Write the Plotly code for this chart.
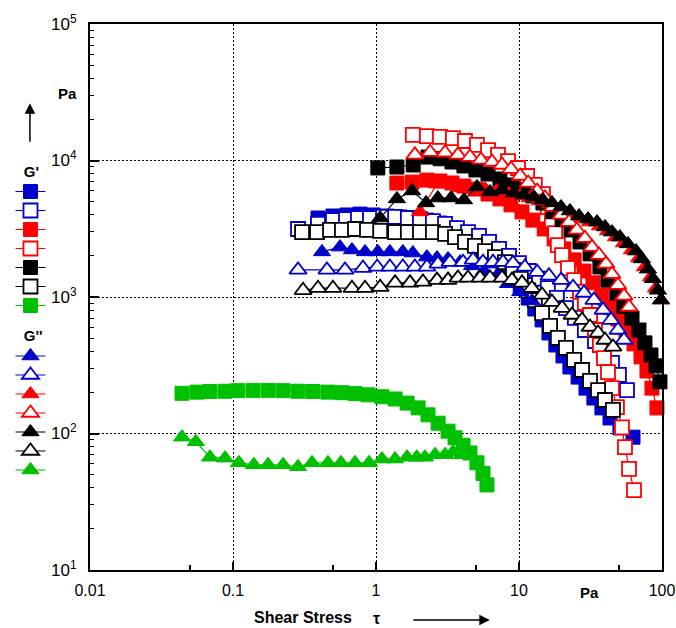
import plotly.graph_objects as go

# ---------------- data (shear stress tau [Pa], modulus [Pa]) ----------------
# G' (squares)
x1 = [0.393, 0.500, 0.627, 0.773, 0.953, 1.19, 1.47, 1.81, 2.27, 2.80, 3.40, 4.06, 4.77, 5.60, 6.58, 7.73, 8.93, 10.2, 11.6, 12.9, 14.5, 16.2, 18.1, 20.3, 22.7, 25.9, 29.4, 33.4, 38.0, 43.3, 50.8, 62.7]
y1 = [3790, 3920, 3990, 4050, 3990, 3920, 3860, 3790, 3660, 3480, 3200, 2840, 2490, 2140, 1840, 1580, 1360, 1160, 984, 817, 679, 545, 445, 370, 307, 259, 215, 182, 154, 130, 110, 94]

x2 = [0.285, 0.393, 0.500, 0.617, 0.748, 0.908, 1.12, 1.36, 1.67, 2.03, 2.50, 3.04, 3.68, 4.40, 5.25, 6.17, 7.25, 8.51, 10.0, 11.7, 13.8, 15.9, 18.4, 21.3, 24.6, 28.9, 34.0, 39.3, 44.7, 50.0, 56.9]
y2 = [3150, 3430, 3660, 3720, 3790, 3790, 3860, 3860, 3790, 3720, 3600, 3430, 3200, 2990, 2800, 2530, 2250, 2000, 1770, 1550, 1360, 1160, 984, 830, 702, 573, 476, 396, 329, 269, 208]

x3 = [1.40, 1.79, 2.27, 2.80, 3.40, 4.12, 5.00, 6.07, 7.36, 8.79, 10.5, 12.5, 15.0, 17.6, 20.6, 24.3, 28.5, 32.9, 38.0, 43.3, 49.2, 56.0, 63.7, 71.3, 78.5, 85.1, 92.2]
y3 = [6840, 6950, 7190, 7080, 6840, 6500, 6180, 5680, 5230, 4730, 4200, 3660, 3150, 2660, 2250, 1870, 1550, 1270, 1035, 845, 690, 564, 453, 364, 287, 215, 154]

x4 = [1.81, 2.27, 2.80, 3.45, 4.19, 5.08, 6.07, 7.13, 8.38, 9.84, 11.4, 12.9, 14.7, 15.9, 17.0, 17.9, 18.7, 20.0, 22.0, 24.3, 26.7, 28.9, 31.4, 34.0, 36.8, 39.3, 41.9, 44.7, 48.4, 52.5, 55.1, 58.8, 63.7]
y4 = [15400, 15100, 14900, 14600, 13900, 13000, 11900, 11000, 9910, 8810, 7700, 6620, 5680, 4560, 3660, 2940, 2400, 2030, 1630, 1330, 1090, 904, 738, 573, 445, 357, 282, 215, 156, 111, 79.6, 55.0, 38.5]

x5 = [1.03, 1.40, 1.82, 2.31, 2.81, 3.40, 4.12, 5.00, 6.07, 7.36, 8.93, 10.7, 12.5, 14.7, 17.3, 20.0, 23.1, 26.7, 31.4, 36.8, 41.9, 48.4, 54.2, 61.7, 69.0, 76.0, 83.7, 90.7, 96.8]
y5 = [8820, 8960, 9270, 10600, 10300, 9750, 9120, 8520, 7960, 7320, 6620, 6080, 5500, 4880, 4210, 3680, 3100, 2530, 2070, 1660, 1330, 1070, 856, 700, 573, 461, 376, 313, 239]

x6 = [0.304, 0.387, 0.477, 0.578, 0.713, 0.865, 1.07, 1.36, 1.67, 2.03, 2.50, 3.04, 3.57, 4.19, 4.92, 5.78, 6.79, 7.98, 9.08, 10.3, 11.6, 12.9, 14.5, 16.5, 18.7, 21.3, 24.3, 27.6, 31.4, 35.7, 39.9, 45.4]
y6 = [2990, 2990, 3100, 3100, 3150, 3100, 3050, 2990, 2990, 2990, 2990, 2900, 2750, 2530, 2370, 2170, 1960, 1800, 1580, 1360, 1120, 950, 763, 614, 501, 424, 346, 292, 243, 208, 176, 149]

x7 = [0.044, 0.056, 0.069, 0.088, 0.108, 0.138, 0.176, 0.224, 0.285, 0.362, 0.461, 0.578, 0.713, 0.879, 1.10, 1.36, 1.65, 1.97, 2.31, 2.72, 3.19, 3.57, 4.06, 4.54, 5.08, 5.60, 5.97]
y7 = [197, 201, 203, 204, 206, 207, 207, 206, 204, 203, 201, 199, 196, 192, 186, 179, 167, 154, 137, 119, 104, 93, 82, 72, 61, 51, 42]

# G'' (triangles)
x8 = [0.419, 0.560, 0.679, 0.838, 1.03, 1.25, 1.54, 1.81, 2.27, 2.67, 3.19, 3.87, 4.69, 5.69, 6.90, 8.38, 10.2, 12.3]
y8 = [2140, 2320, 2210, 2140, 2140, 2140, 2140, 2100, 1960, 1930, 1900, 1800, 1690, 1550, 1400, 1250, 1090, 935]

x9 = [0.285, 0.454, 0.607, 0.811, 1.02, 1.25, 1.54, 1.87, 2.27, 2.71, 3.29, 4.06, 4.77, 5.60, 6.58, 7.73, 9.08, 11.0, 13.4, 16.2, 19.7, 23.9, 28.5, 33.4, 38.7, 44.0, 49.2, 54.2]
y9 = [1580, 1580, 1580, 1630, 1660, 1660, 1660, 1660, 1660, 1750, 1800, 1800, 1870, 1800, 1800, 1800, 1770, 1660, 1520, 1430, 1330, 1180, 1070, 950, 803, 678, 573, 484]

x10 = [2.03, 2.67, 3.14, 3.87, 4.69, 5.78, 7.02, 8.51, 10.2, 11.9, 14.0, 16.5, 19.4, 22.7, 26.7, 31.4, 36.8, 41.9, 47.7, 54.2, 61.7, 69.0, 76.0, 83.7, 90.7, 98.4]
y10 = [4200, 6730, 6730, 6290, 6080, 6180, 5980, 5680, 5500, 5310, 5050, 4800, 4490, 4120, 3790, 3540, 3310, 3050, 2750, 2490, 2210, 1930, 1660, 1400, 1160, 950]

x11 = [1.87, 2.39, 3.04, 3.74, 4.54, 5.42, 6.48, 7.61, 8.79, 10.2, 11.6, 13.4, 15.2, 17.3, 19.7, 22.4, 25.4, 28.9, 32.4, 36.3, 40.6, 44.7, 49.2, 54.2, 58.8]
y11 = [11000, 11500, 11400, 11000, 10600, 10100, 9750, 9270, 8660, 7700, 6840, 5980, 5310, 4560, 3990, 3540, 3100, 2700, 2320, 2030, 1750, 1470, 1220, 1020, 845]

x12 = [1.07, 1.40, 1.79, 2.24, 2.71, 3.35, 4.12, 5.08, 6.27, 7.61, 9.23, 10.8, 12.7, 14.7, 17.0, 19.7, 22.7, 26.3, 30.4, 35.1, 39.9, 44.7, 50.8, 57.8, 65.8, 72.4, 79.8, 86.5, 93.7, 98.5]
y12 = [3790, 5230, 5980, 4890, 5310, 5310, 5140, 6400, 5880, 6080, 5780, 5590, 5400, 5140, 4890, 4560, 4270, 3920, 3720, 3540, 3260, 2990, 2750, 2450, 2170, 1900, 1600, 1360, 1120, 950]

x13 = [0.309, 0.393, 0.500, 0.679, 0.838, 1.07, 1.36, 1.73, 2.13, 2.67, 3.19, 3.74, 4.40, 5.34, 6.27, 7.61, 8.93, 10.5, 12.3, 14.5, 17.0, 20.0, 23.5, 27.6, 31.4, 35.7, 39.9, 45.4]
y13 = [1120, 1160, 1160, 1160, 1160, 1180, 1270, 1270, 1290, 1330, 1330, 1380, 1380, 1380, 1380, 1380, 1330, 1270, 1160, 1035, 918, 830, 738, 678, 603, 545, 484, 431]

x14 = [0.044, 0.055, 0.069, 0.088, 0.110, 0.140, 0.176, 0.224, 0.285, 0.357, 0.461, 0.569, 0.713, 0.894, 1.10, 1.36, 1.65, 1.93, 2.20, 2.59, 3.04, 3.45, 3.99]
y14 = [94, 87, 67, 66, 61, 59, 59, 59, 57, 61, 61, 61, 61, 61, 65, 65, 67, 67, 67, 70, 70, 73, 70]

x_tickvals = [0.01, 0.1, 1, 10, 100]
x_ticktext = ["0.01", "0.1", "1", "10", "100"]
y_tickvals = [10, 100, 1000, 10000, 100000]
y_ticktext = ["10<sup>1</sup>", "10<sup>2</sup>", "10<sup>3</sup>", "10<sup>4</sup>", "10<sup>5</sup>"]

# ---------------- styling ----------------
BLUE = "#0000CC"
RED = "#FF0000"
BLACK = "#000000"
GREEN = "#00C000"

series = [
    (x1, y1, BLUE, "square", True, "gp"),
    (x2, y2, BLUE, "square", False, "gp"),
    (x3, y3, RED, "square", True, "gp"),
    (x4, y4, RED, "square", False, "gp"),
    (x5, y5, BLACK, "square", True, "gp"),
    (x6, y6, BLACK, "square", False, "gp"),
    (x7, y7, GREEN, "square", True, "gp"),
    (x8, y8, BLUE, "triangle-up", True, "gpp"),
    (x9, y9, BLUE, "triangle-up", False, "gpp"),
    (x10, y10, RED, "triangle-up", True, "gpp"),
    (x11, y11, RED, "triangle-up", False, "gpp"),
    (x12, y12, BLACK, "triangle-up", True, "gpp"),
    (x13, y13, BLACK, "triangle-up", False, "gpp"),
    (x14, y14, GREEN, "triangle-up", True, "gpp"),
]

NB = "\u00a0"
group_titles = {"gp": NB * 2 + "<b>G'</b>", "gpp": NB * 2 + "<b>G''</b>"}

fig = go.Figure()
seen = set()
for xs, ys, col, sym, filled, grp in series:
    size = 14 if sym == "square" else 15
    mk = dict(
        symbol=sym,
        size=size,
        color=col if filled else "white",
        line=dict(color=col, width=1 if filled else 1.8),
    )
    kw = {}
    if grp not in seen:
        kw["legendgrouptitle"] = dict(text=group_titles[grp], font=dict(size=15, color="black"))
        seen.add(grp)
    fig.add_trace(go.Scatter(
        x=xs, y=ys, mode="lines+markers", name=" ",
        line=dict(color=col, width=1.2),
        marker=mk, legendgroup=grp, cliponaxis=False, hoverinfo="skip", **kw,
    ))

axis_common = dict(
    type="log",
    showline=True, linewidth=2, linecolor="black", mirror=True,
    showgrid=True, gridcolor="black", gridwidth=1, griddash="2px,2px",
    ticks="inside", tickcolor="black", tickwidth=1.5,
    zeroline=False, ticklabeloverflow="allow",
)

fig.update_xaxes(
    range=[-2, 2], tickvals=x_tickvals, ticktext=x_ticktext, ticklen=8,
    ticklabelstandoff=5, tickfont=dict(size=16, color="black"),
    minor=dict(tickvals=[0.05, 0.5, 5, 50], ticks="inside", ticklen=5,
               tickcolor="black", tickwidth=1.5, showgrid=False),
    **axis_common,
)
y_minor = [m * 10 ** e for e in range(1, 5) for m in range(2, 10)]
fig.update_yaxes(
    range=[1, 5], tickvals=y_tickvals, ticktext=y_ticktext, ticklen=9,
    ticklabelstandoff=8, tickfont=dict(size=17, color="black"),
    minor=dict(tickvals=y_minor, ticks="inside", ticklen=4,
               tickcolor="black", tickwidth=1, showgrid=False),
    **axis_common,
)

fig.update_layout(
    width=676, height=628,
    margin=dict(l=90, r=14, t=24, b=58, autoexpand=False),
    plot_bgcolor="white", paper_bgcolor="white",
    font=dict(family="Liberation Sans, Arial, sans-serif", color="black", size=15),
    showlegend=True,
    hovermode=False,
    legend=dict(
        x=-0.139, y=0.761, xanchor="left", yanchor="top",
        font=dict(size=12), tracegroupgap=9, itemwidth=30,
        bgcolor="rgba(0,0,0,0)", borderwidth=0, itemclick=False,
    ),
    annotations=[
        dict(text="<b>Pa</b>", x=-0.0402, y=0.8736, xref="paper", yref="paper",
             xanchor="center", yanchor="middle", showarrow=False, font=dict(size=15)),
        dict(text="", x=-0.105, y=0.855, xref="paper", yref="paper",
             ax=0, ay=40, showarrow=True, arrowhead=2, arrowsize=1.4,
             arrowwidth=1.5, arrowcolor="black"),
        dict(text="<b>Shear Stress</b>", x=0.372, y=-0.0861, xref="paper", yref="paper",
             xanchor="center", yanchor="middle", showarrow=False, font=dict(size=16)),
        dict(text="<b>τ</b>", x=0.5017, y=-0.088, xref="paper", yref="paper",
             xanchor="center", yanchor="middle", showarrow=False, font=dict(size=16)),
        dict(text="", x=0.699, y=-0.0916, xref="paper", yref="paper",
             ax=-78, ay=0, showarrow=True, arrowhead=2, arrowsize=1.4,
             arrowwidth=1.5, arrowcolor="black"),
        dict(text="<b>Pa</b>", x=0.874, y=-0.0403, xref="paper", yref="paper",
             xanchor="center", yanchor="middle", showarrow=False, font=dict(size=15)),
    ],
)

# remove the default 8px page margin so the 676x628 figure fills the window exactly
fig.write_html(
    "out.html",
    config={"displayModeBar": False},
    post_script="document.body.style.margin='0';",
)
